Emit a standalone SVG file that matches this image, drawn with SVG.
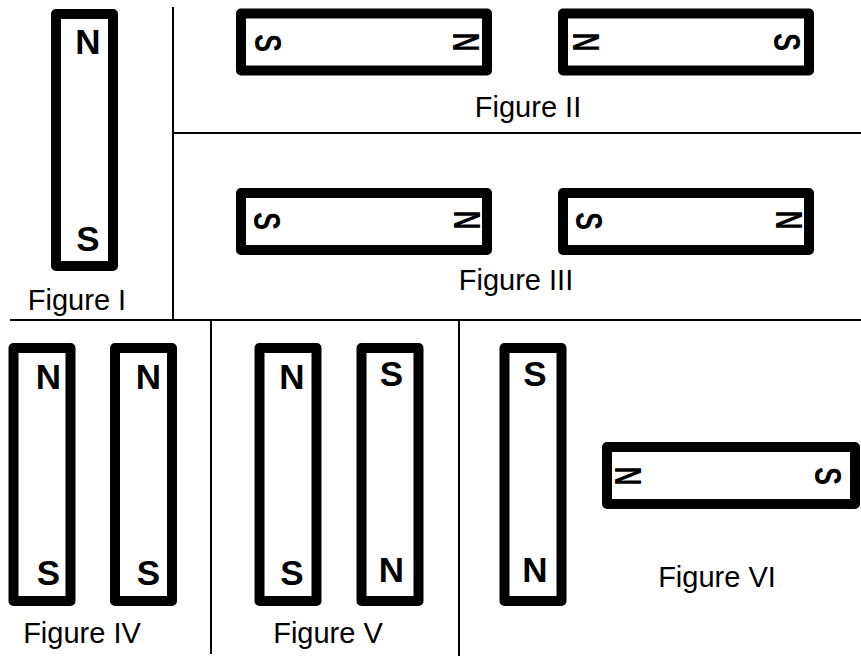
<svg xmlns="http://www.w3.org/2000/svg" width="861" height="656" viewBox="0 0 861 656">
<style>
.mag{fill:#fff;stroke:#000;stroke-width:10;stroke-linejoin:round}
.pole{font-family:"Liberation Sans",Arial,sans-serif;font-weight:bold;font-size:35px;fill:#000;text-anchor:middle}
.hp{font-family:"Liberation Sans",Arial,sans-serif;font-weight:bold;font-size:34px;fill:#000;text-anchor:middle}
.lbl{font-family:"Liberation Sans",Arial,sans-serif;font-size:29px;fill:#000;text-anchor:middle}
.div{stroke:#000;stroke-width:2;fill:none}
</style>
<rect width="861" height="656" fill="#fff"/>
<g id="connectors">
<line class="div" x1="173" y1="7" x2="173" y2="320"/>
<line class="div" x1="173" y1="133" x2="861" y2="133"/>
<line class="div" x1="10" y1="320" x2="861" y2="320"/>
<line class="div" x1="211" y1="320" x2="211" y2="654"/>
<line class="div" x1="459" y1="320" x2="459" y2="656"/>
</g>
<g id="fig1">
<rect class="mag" x="56" y="14" width="57" height="252"/>
<text class="pole" x="88" y="54">N</text>
<text class="pole" x="88" y="251">S</text>
<text class="lbl" x="77" y="310">Figure I</text>
</g>
<g id="fig2">
<rect class="mag" x="241" y="13.5" width="246" height="57"/>
<text class="hp" transform="translate(268,43) scale(1.08,0.78) rotate(90)" y="12">S</text>
<text class="hp" transform="translate(466,42) scale(1.08,0.78) rotate(90)" y="12">N</text>
<rect class="mag" x="563" y="13.5" width="246" height="57"/>
<text class="hp" transform="translate(586,42) scale(1.08,0.78) rotate(90)" y="12">N</text>
<text class="hp" transform="translate(787,42) scale(1.08,0.78) rotate(90)" y="12">S</text>
<text class="lbl" x="528" y="117">Figure II</text>
</g>
<g id="fig3">
<rect class="mag" x="241" y="193" width="246" height="57"/>
<text class="hp" transform="translate(267,221) scale(1.08,0.78) rotate(90)" y="12">S</text>
<text class="hp" transform="translate(467,220) scale(1.08,0.78) rotate(90)" y="12">N</text>
<rect class="mag" x="563" y="193" width="246" height="57"/>
<text class="hp" transform="translate(589,221) scale(1.08,0.78) rotate(90)" y="12">S</text>
<text class="hp" transform="translate(789,220) scale(1.08,0.78) rotate(90)" y="12">N</text>
<text class="lbl" x="516" y="290">Figure III</text>
</g>
<g id="fig4">
<rect class="mag" x="13.5" y="348" width="57" height="253"/>
<text class="pole" x="48.5" y="389">N</text>
<text class="pole" x="48.5" y="585">S</text>
<rect class="mag" x="115" y="348" width="57" height="253"/>
<text class="pole" x="148.5" y="389">N</text>
<text class="pole" x="148.5" y="585">S</text>
<text class="lbl" x="82" y="643">Figure IV</text>
</g>
<g id="fig5">
<rect class="mag" x="259.5" y="348" width="57" height="253"/>
<text class="pole" x="292" y="389">N</text>
<text class="pole" x="292" y="585">S</text>
<rect class="mag" x="361.5" y="348" width="57" height="253"/>
<text class="pole" x="391.5" y="386">S</text>
<text class="pole" x="391.5" y="582">N</text>
<text class="lbl" x="328" y="643">Figure V</text>
</g>
<g id="fig6">
<rect class="mag" x="504.5" y="348" width="57" height="253"/>
<text class="pole" x="535" y="386">S</text>
<text class="pole" x="535" y="582">N</text>
<rect class="mag" x="607" y="447" width="248" height="57"/>
<text class="hp" transform="translate(628,476) scale(1.08,0.78) rotate(90)" y="12">N</text>
<text class="hp" transform="translate(828,476) scale(1.08,0.78) rotate(90)" y="12">S</text>
<text class="lbl" x="717" y="587">Figure VI</text>
</g>
</svg>
